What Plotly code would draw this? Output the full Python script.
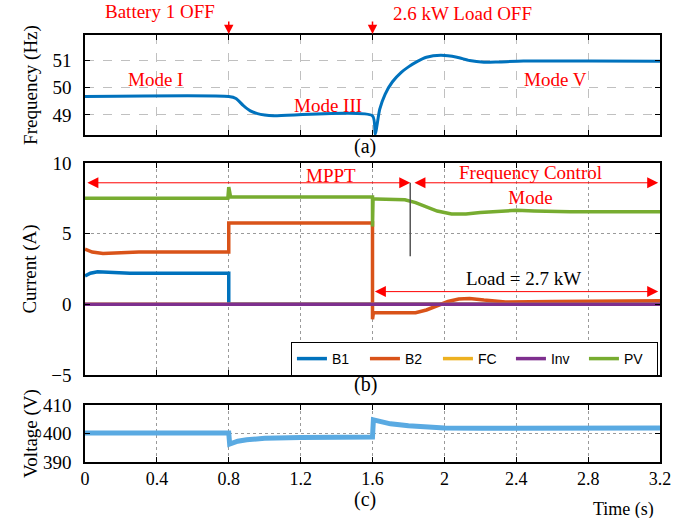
import plotly.graph_objects as go

# ---------------- data ----------------
# (a) frequency
t_freq = [0, 0.8, 0.84, 0.88, 0.92, 0.96, 1.0, 1.05, 1.6, 1.615, 1.64, 1.67, 1.71, 1.76, 1.8, 1.85,
          1.9, 1.98, 2.07, 2.14, 2.22, 2.3, 2.44, 2.8, 3.2]
freq = [49.67, 49.67, 49.6, 49.35, 49.15, 49.05, 49.0, 48.97, 48.97, 48.3, 49.2, 49.75, 50.2, 50.55,
        50.75, 50.95, 51.1, 51.17, 51.1, 50.98, 50.92, 50.93, 50.96, 50.96, 50.95]

# (b) currents
t_b1 = [0, 0.03, 0.07, 0.25, 0.8, 0.8, 3.2]
i_b1 = [2.0, 2.2, 2.3, 2.2, 2.2, 0.0, 0.0]

t_b2 = [0, 0.04, 0.1, 0.3, 0.8, 0.8, 1.6, 1.6, 1.605, 1.62, 1.84, 1.9, 1.96, 2.02, 2.08, 2.14, 2.22,
        2.34, 2.6, 3.2]
i_b2 = [3.9, 3.7, 3.6, 3.7, 3.7, 5.75, 5.75, -1.05, -0.6, -0.6, -0.6, -0.4, -0.1, 0.2, 0.38, 0.42,
        0.3, 0.17, 0.2, 0.25]

t_fc = [0, 3.2]
i_fc = [0.0, 0.0]

t_inv = [0, 3.2]
i_inv = [0.0, 0.0]

t_pv = [0, 0.795, 0.8, 0.81, 1.6, 1.6, 1.603, 1.62, 1.72, 1.78, 1.84, 1.9, 1.96, 2.04, 2.12, 2.2,
        2.3, 2.4, 2.5, 2.7, 3.2]
i_pv = [7.5, 7.5, 8.3, 7.6, 7.6, 5.5, 7.45, 7.45, 7.45, 7.4, 7.2, 6.9, 6.6, 6.4, 6.4, 6.5,
        6.6, 6.65, 6.6, 6.55, 6.55]

# (c) voltage
t_volt = [0, 0.8, 0.805, 0.85, 0.9, 1.0, 1.2, 1.6, 1.605, 1.65, 1.7, 1.8, 1.9, 2.0, 2.2, 2.6, 3.2]
volt = [400.2, 400.2, 396.3, 397.3, 397.8, 398.3, 398.6, 398.8, 404.8, 404.0, 403.4, 402.7, 402.2,
        401.9, 401.8, 401.9, 401.9]

x_ticks = [0, 0.4, 0.8, 1.2, 1.6, 2, 2.4, 2.8, 3.2]
x_ticktext = ["0", "0.4", "0.8", "1.2", "1.6", "2", "2.4", "2.8", "3.2"]

series = [("B1", t_b1, i_b1, "#0072BD"), ("B2", t_b2, i_b2, "#D95319"),
          ("FC", t_fc, i_fc, "#EDB120"), ("Inv", t_inv, i_inv, "#7E2F8E"),
          ("PV", t_pv, i_pv, "#77AC30")]

# ---------------- figure ----------------
W, H = 685, 518
SERIF = "Liberation Serif"
RED = "#FF0000"

def py(px):
    return 1 - px / H

xdom = [85 / W, 660 / W]

fig = go.Figure()
fig.add_trace(go.Scatter(x=t_freq, y=freq, mode="lines", line=dict(color="#0072BD", width=3, shape="spline", smoothing=0.6),
                         xaxis="x", yaxis="y", showlegend=False))
for name, tx, iy, col in series:
    fig.add_trace(go.Scatter(x=tx, y=iy, mode="lines", name=name, line=dict(color=col, width=3.5),
                             xaxis="x2", yaxis="y2"))
fig.add_trace(go.Scatter(x=t_volt, y=volt, mode="lines", line=dict(color="#5AAAE2", width=5),
                         xaxis="x3", yaxis="y3", showlegend=False))

common_x = dict(range=[0, 3.2], tickvals=x_ticks, ticktext=x_ticktext, domain=xdom, automargin=False,
                showline=True, linecolor="black", linewidth=1.5, mirror="ticks",
                ticks="inside", ticklen=5, tickcolor="black", zeroline=False,
                showgrid=True, gridcolor="#9a9a9a", griddash="dot", gridwidth=1,
                tickfont=dict(family=SERIF, size=18, color="black"))
common_y = dict(showline=True, linecolor="black", linewidth=1.5, mirror="ticks", automargin=False,
                ticks="inside", ticklen=5, tickcolor="black", zeroline=False, ticklabelstandoff=8,
                showgrid=True, gridcolor="#9a9a9a", griddash="dot", gridwidth=1,
                tickfont=dict(family=SERIF, size=19, color="black"))

fig.update_layout(
    width=W, height=H, margin=dict(l=0, r=0, t=0, b=0, autoexpand=False),
    paper_bgcolor="white", plot_bgcolor="white",
    xaxis=dict(common_x, anchor="y", showticklabels=False, gridcolor="#c0c0c0", griddash="dash"),
    yaxis=dict(common_y, domain=[py(135), py(35)], range=[48.27, 51.91], tickvals=[49, 50, 51],
               gridcolor="#c0c0c0", griddash="dash",
               title=dict(text="Frequency (Hz)", font=dict(family=SERIF, size=19, color="black"), standoff=10)),
    xaxis2=dict(common_x, anchor="y2", showticklabels=False),
    yaxis2=dict(common_y, domain=[py(375), py(163)], range=[-5, 10], tickvals=[-5, 0, 5, 10],
                title=dict(text="Current (A)", font=dict(family=SERIF, size=19, color="black"), standoff=10)),
    xaxis3=dict(common_x, anchor="y3"),
    yaxis3=dict(common_y, domain=[py(462), py(405)], range=[390, 410], tickvals=[390, 400, 410],
                title=dict(text="Voltage (V)", font=dict(family=SERIF, size=19, color="black"), standoff=0)),
    legend=dict(orientation="h", x=xdom[1] - 0.003, xanchor="right", y=py(342), yanchor="top",
                bordercolor="black", borderwidth=1, bgcolor="white",
                font=dict(family="Liberation Sans", size=14, color="black"),
                entrywidth=28, tracegroupgap=0, itemwidth=30),
)

ann = []
def txt(text, x, y, xref="paper", yref="paper", color=RED, size=19, **kw):
    ann.append(dict(text=text, x=x, y=y, xref=xref, yref=yref, showarrow=False,
                    xanchor="center", yanchor="middle",
                    font=dict(family=SERIF, size=size, color=color), **kw))

# panel (a) texts
txt("Battery 1 OFF", 160 / W, py(12))
txt("2.6 kW Load OFF", 462 / W, py(14))
for xv in [0.8, 1.6]:
    ann.append(dict(text="", x=xv, y=py(34), xref="x", yref="paper", ax=0, ay=-14,
                    showarrow=True, arrowhead=2, arrowsize=1.25, arrowwidth=1.5, arrowcolor=RED))
txt("Mode I", 0.39, 50.3, xref="x", yref="y")
txt("Mode III", 1.35, 49.33, xref="x", yref="y")
txt("Mode V", 2.62, 50.28, xref="x", yref="y")
txt("(a)", 365 / W, py(146), color="black", size=20)

# panel (b) texts
txt("MPPT", 1.37, 9.1, xref="x2", yref="y2")
txt("Frequency Control<br>Mode", 2.48, 8.45, xref="x2", yref="y2", size=19)
txt("Load = 2.7 kW", 2.44, 1.85, xref="x2", yref="y2", color="black")
for (x0, x1, yv) in [(0.005, 1.81, 8.6), (1.825, 3.19, 8.6), (1.605, 3.19, 0.9)]:
    ann.append(dict(text="", x=x1, y=yv, ax=x0, ay=yv, xref="x2", yref="y2", axref="x2", ayref="y2",
                    showarrow=True, arrowhead=2, startarrowhead=2, arrowside="end+start",
                    arrowsize=2.2, startarrowsize=2.2, arrowwidth=1, arrowcolor=RED))
txt("(b)", 365 / W, py(384), color="black", size=20)

# panel (c) texts
txt("(c)", 365 / W, py(499), color="black", size=20)
txt("Time (s)", 623 / W, py(509), color="black", size=18)

fig.update_layout(annotations=ann)
fig.add_shape(type="line", x0=1.81, x1=1.81, y0=8.6, y1=3.4, xref="x2", yref="y2",
              line=dict(color="#555555", width=1.5))

fig.write_html("out.html")
